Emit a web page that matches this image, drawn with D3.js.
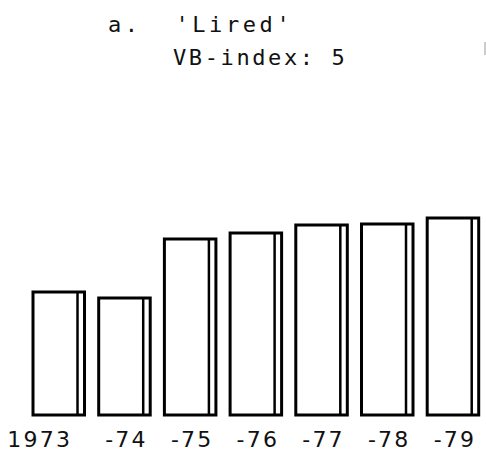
<!DOCTYPE html>
<html>
<head>
<meta charset="utf-8">
<script src="https://cdn.jsdelivr.net/npm/d3@7"></script>
<style>
  html, body { margin: 0; padding: 0; background: #fff; }
  svg { display: block; }
  text { white-space: pre; }
</style>
</head>
<body>
<svg id="chart" width="486" height="451"></svg>
<script>
// values (relative bar heights)
const years = ["1973", "-74", "-75", "-76", "-77", "-78", "-79"];
const values = [123, 117, 176, 182, 190, 191, 197];
const titleLines = ["a.  'Lired'", "VB-index: 5"];

const width = 486;
const height = 451;
const baseY = 415;

const svg = d3.select("#chart");

// step ~65.7px, bars ~51.5px wide (stroke centre)
const step = 65.7;
const pad = 0.216;
const x = d3.scaleBand()
  .domain(years)
  .range([33, 33 + (years.length - pad) * step])
  .paddingInner(pad)
  .paddingOuter(0)
  .align(0);

const y = d3.scaleLinear()
  .domain([0, 200])
  .range([baseY, baseY - 200]);

// title
svg.append("text")
  .attr("x", 108)
  .attr("y", 32)
  .attr("font-family", "DejaVu Sans Mono")
  .attr("font-size", 22)
  .attr("letter-spacing", 3.6)
  .attr("fill", "#111")
  .text(titleLines[0]);

svg.append("text")
  .attr("x", 173)
  .attr("y", 65)
  .attr("font-family", "DejaVu Sans Mono")
  .attr("font-size", 22)
  .attr("letter-spacing", 2.6)
  .attr("fill", "#111")
  .text(titleLines[1]);

// faint mark at the right edge of the scan
svg.append("line")
  .attr("x1", 485).attr("x2", 485)
  .attr("y1", 42).attr("y2", 55)
  .attr("stroke", "#bbb")
  .attr("stroke-width", 1.5);

const bars = svg.append("g")
  .selectAll("g")
  .data(years.map((yr, i) => ({ year: yr, value: values[i] })))
  .join("g");

bars.append("rect")
  .attr("x", d => x(d.year))
  .attr("y", d => y(d.value))
  .attr("width", x.bandwidth())
  .attr("height", d => baseY - y(d.value))
  .attr("fill", "#fff")
  .attr("stroke", "#000")
  .attr("stroke-width", 3);

// inner line near the right side
bars.append("line")
  .attr("x1", d => x(d.year) + x.bandwidth() - 7)
  .attr("x2", d => x(d.year) + x.bandwidth() - 7)
  .attr("y1", d => y(d.value))
  .attr("y2", baseY)
  .attr("stroke", "#000")
  .attr("stroke-width", 2.5);

// year labels
svg.append("g")
  .selectAll("text")
  .data(years)
  .join("text")
  .attr("x", (d, i) => x(d) + x.bandwidth() / 2 + (i === 0 ? -19 : 2))
  .attr("y", 447)
  .attr("text-anchor", "middle")
  .attr("font-family", "DejaVu Sans")
  .attr("font-size", 22)
  .attr("letter-spacing", 2.2)
  .attr("fill", "#111")
  .text(d => d);
</script>
</body>
</html>
